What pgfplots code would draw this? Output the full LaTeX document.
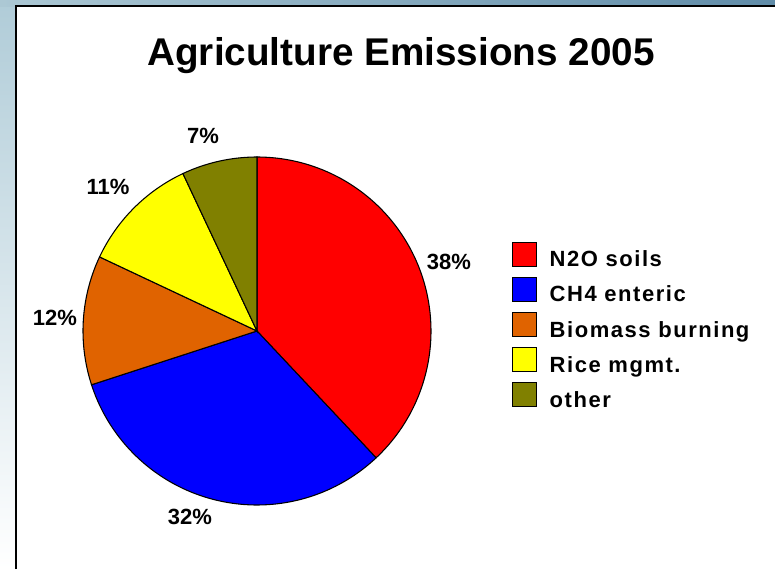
\documentclass[border=0pt]{standalone}
\usepackage{fontspec}
\setmainfont{Liberation Sans}
\usepackage{pgfplots}
\pgfplotsset{compat=1.18}
\definecolor{cRed}{RGB}{255,0,0}
\definecolor{cBlue}{RGB}{0,0,255}
\definecolor{cOrange}{RGB}{224,99,0}
\definecolor{cYellow}{RGB}{255,255,0}
\definecolor{cOlive}{RGB}{128,128,0}
\definecolor{bgTL}{RGB}{172,200,212}
\definecolor{bgTR}{RGB}{96,140,168}
\definecolor{bgL}{RGB}{176,204,216}
% shares in percent
\def\pA{38}\def\pB{32}\def\pC{12}\def\pD{11}\def\pE{7}
\pgfmathsetmacro\aA{90}
\pgfmathsetmacro\aB{\aA-3.6*\pA}
\pgfmathsetmacro\aC{\aB-3.6*\pB}
\pgfmathsetmacro\aD{\aC-3.6*\pC}
\pgfmathsetmacro\aE{\aD-3.6*\pD}
\pgfmathsetmacro\aF{\aE-3.6*\pE}
\def\cx{257}\def\cy{238}\def\rr{174}
\begin{document}
\begin{tikzpicture}[x=0.75pt,y=0.75pt]
\clip (0,0) rectangle (775,569);
\shade[top color=bgL, bottom color=white] (0,0) rectangle (16,569);
\shade[left color=bgTL, right color=bgTR] (0,562) rectangle (775,569);
\fill[white] (16,0) rectangle (775,562);
\draw[line width=1.5pt] (16,0) -- (16,562.5) -- (775,562.5);
\begin{axis}[
  at={(0,0)}, anchor=south west,
  scale only axis, width=581.25pt, height=426.75pt,
  xmin=0, xmax=775, ymin=0, ymax=569,
  hide axis, clip=false,
  legend image code/.code={\draw[#1,draw=black,line width=0.8pt] (0pt,-4.75pt) rectangle (18pt,13.25pt);},
  legend style={at={(axis cs:512,327.5)}, anchor=north west, draw=none, fill=none,
    inner sep=0pt, outer sep=0pt, column sep=9.5pt, row sep=6pt,
    font=\fontsize{16.5}{18}\selectfont\bfseries\addfontfeature{LetterSpace=7},
    nodes={inner sep=0pt}},
  legend cell align=left,
]
\addplot[fill=cRed, draw=black, line width=0.8pt, domain=\aA:\aB, samples=120, variable=\t]
  ({\cx+\rr*cos(t)}, {\cy+\rr*sin(t)}) -- (axis cs:\cx,\cy) -- cycle;
\addlegendentry{N2O soils}
\addplot[fill=cBlue, draw=black, line width=0.8pt, domain=\aB:\aC, samples=100, variable=\t]
  ({\cx+\rr*cos(t)}, {\cy+\rr*sin(t)}) -- (axis cs:\cx,\cy) -- cycle;
\addlegendentry{CH4 enteric}
\addplot[fill=cOrange, draw=black, line width=0.8pt, domain=\aC:\aD, samples=40, variable=\t]
  ({\cx+\rr*cos(t)}, {\cy+\rr*sin(t)}) -- (axis cs:\cx,\cy) -- cycle;
\addlegendentry{Biomass burning}
\addplot[fill=cYellow, draw=black, line width=0.8pt, domain=\aD:\aE, samples=40, variable=\t]
  ({\cx+\rr*cos(t)}, {\cy+\rr*sin(t)}) -- (axis cs:\cx,\cy) -- cycle;
\addlegendentry{Rice mgmt.}
\addplot[fill=cOlive, draw=black, line width=0.8pt, domain=\aE:\aF, samples=30, variable=\t]
  ({\cx+\rr*cos(t)}, {\cy+\rr*sin(t)}) -- (axis cs:\cx,\cy) -- cycle;
\addlegendentry{other}
\node[anchor=base, font=\fontsize{29}{32}\selectfont\bfseries] at (axis cs:401,503) {Agriculture Emissions 2005};
\node[anchor=base, font=\fontsize{16.5}{18}\selectfont\bfseries] at (axis cs:449,300) {38\%};
\node[anchor=base, font=\fontsize{16.5}{18}\selectfont\bfseries] at (axis cs:190,45) {32\%};
\node[anchor=base, font=\fontsize{16.5}{18}\selectfont\bfseries] at (axis cs:55,244) {12\%};
\node[anchor=base, font=\fontsize{16.5}{18}\selectfont\bfseries] at (axis cs:108,374) {11\%};
\node[anchor=base, font=\fontsize{16.5}{18}\selectfont\bfseries] at (axis cs:203,425) {7\%};
\end{axis}
\end{tikzpicture}
\end{document}
